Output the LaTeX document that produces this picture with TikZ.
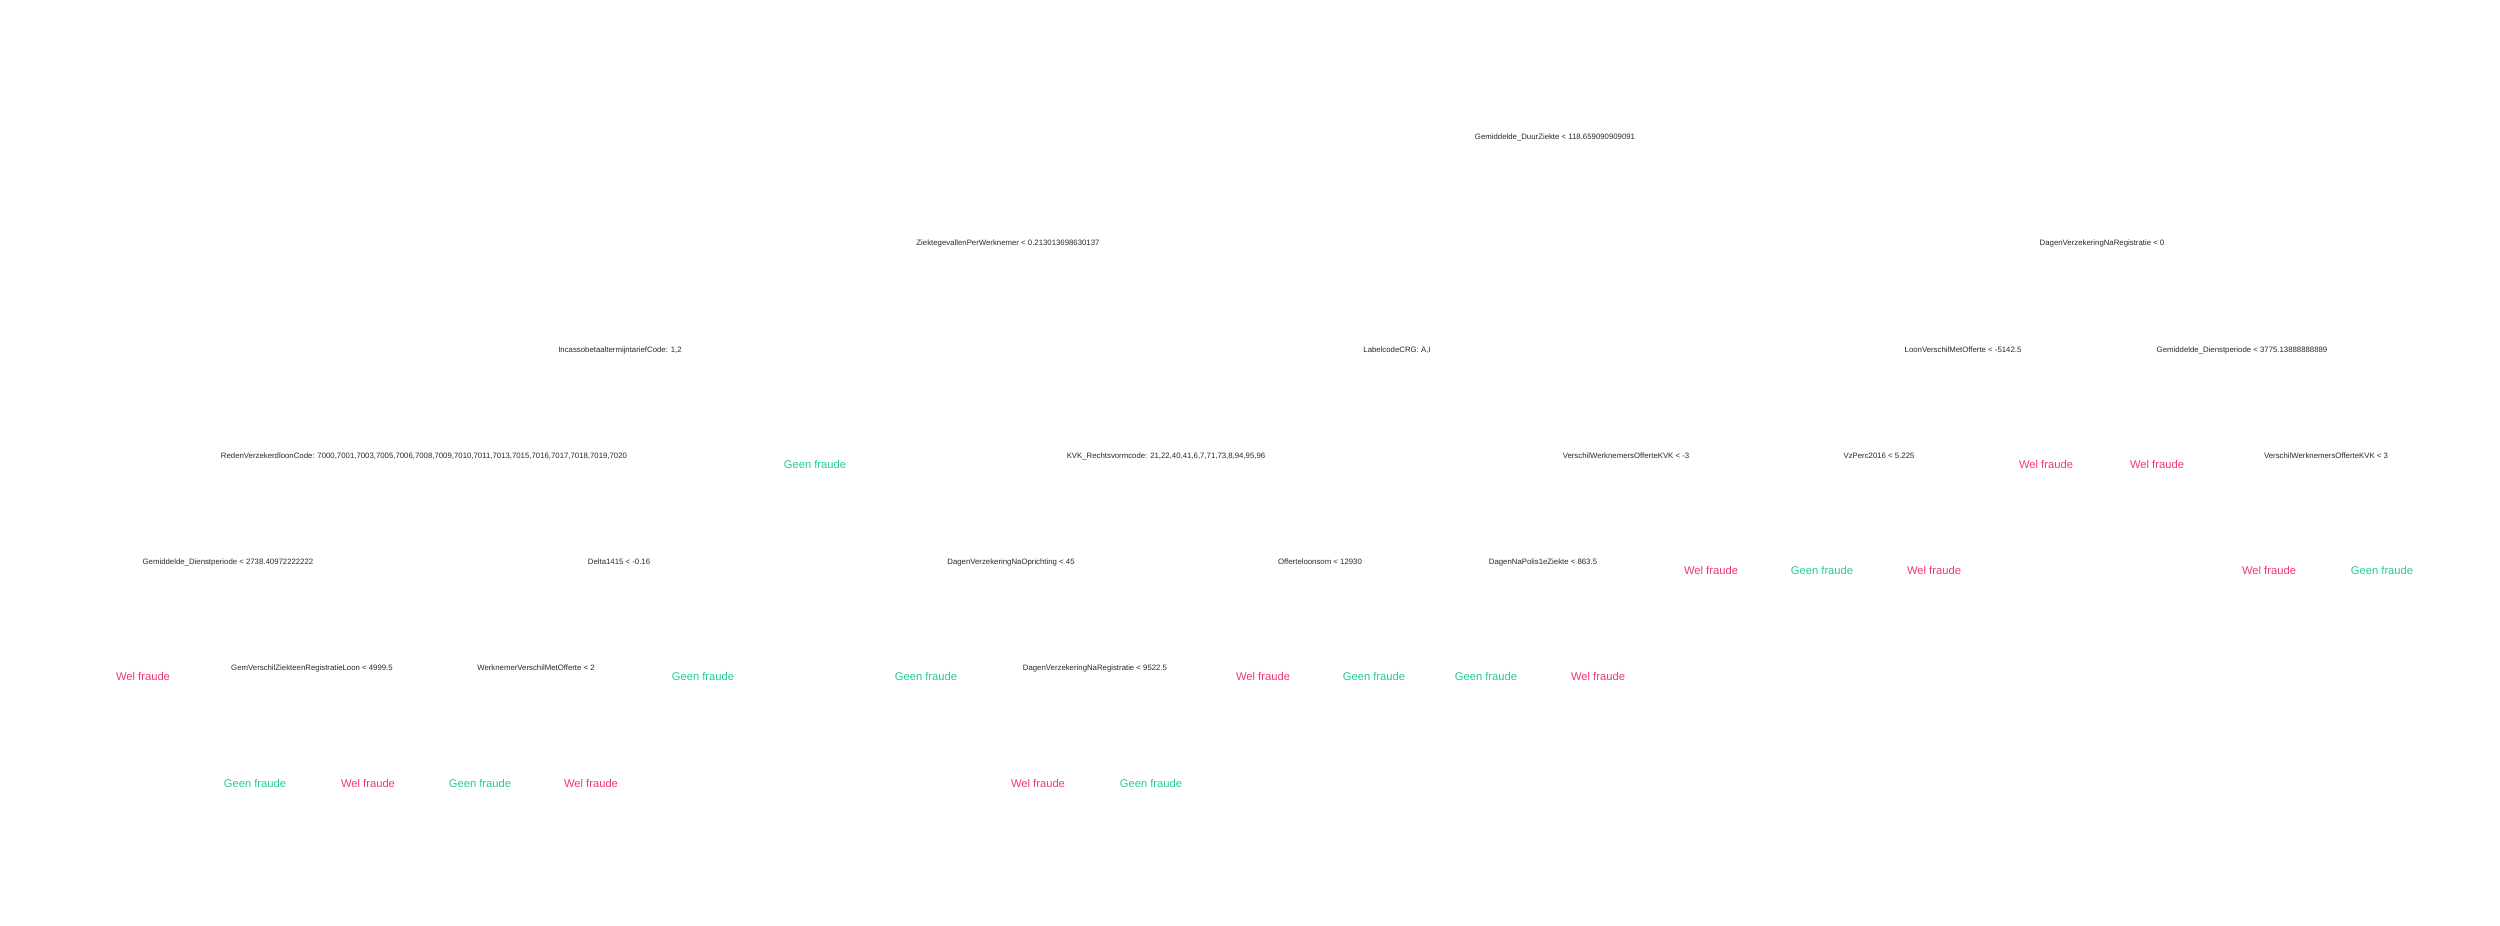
\documentclass[tikz,border=0pt]{standalone}
\usepackage{fontspec}
\setmainfont{Liberation Sans}
\definecolor{welc}{RGB}{240,56,107}
\definecolor{geenc}{RGB}{30,208,138}
\definecolor{splitc}{RGB}{40,40,40}
\begin{document}
\begin{tikzpicture}[x=1pt,y=-1pt,
  split/.style={inner sep=0pt,text=splitc,font=\fontsize{7.8}{9}\selectfont},
  wel/.style={inner sep=0pt,text=welc,font=\fontsize{11.2}{13}\selectfont},
  geen/.style={inner sep=0pt,text=geenc,font=\fontsize{11.2}{13}\selectfont}]
\useasboundingbox (0,0) rectangle (2500,926);
% level 1
\node[split] (r) at (1555,137) {Gemiddelde\_DuurZiekte < 118.659090909091};
% level 2
\node[split] (a) at (1008,243) {ZiektegevallenPerWerknemer < 0.213013698630137};
\node[split] (b) at (2102,243) {DagenVerzekeringNaRegistratie < 0};
% level 3
\node[split] (aa) at (620,350) {IncassobetaaltermijntariefCode: 1,2};
\node[split] (ab) at (1397,350) {LabelcodeCRG: A,I};
\node[split] (ba) at (1963,350) {LoonVerschilMetOfferte < -5142.5};
\node[split] (bb) at (2242,350) {Gemiddelde\_Dienstperiode < 3775.13888888889};
% level 4
\node[split] (aaa) at (424,456) {RedenVerzekerdloonCode: 7000,7001,7003,7005,7006,7008,7009,7010,7011,7013,7015,7016,7017,7018,7019,7020};
\node[geen] (aab) at (815,464) {Geen fraude};
\node[split] (aba) at (1166,456) {KVK\_Rechtsvormcode: 21,22,40,41,6,7,71,73,8,94,95,96};
\node[split] (abb) at (1626,456) {VerschilWerknemersOfferteKVK < -3};
\node[split] (baa) at (1879,456) {VzPerc2016 < 5.225};
\node[wel] (bab) at (2046,464) {Wel fraude};
\node[wel] (bba) at (2157,464) {Wel fraude};
\node[split] (bbb) at (2326,456) {VerschilWerknemersOfferteKVK < 3};
% level 5
\node[split] (aaaa) at (228,562) {Gemiddelde\_Dienstperiode < 2738.40972222222};
\node[split] (aaab) at (619,562) {Delta1415 < -0.16};
\node[split] (abaa) at (1011,562) {DagenVerzekeringNaOprichting < 45};
\node[split] (abab) at (1320,562) {Offerteloonsom < 12930};
\node[split] (abba) at (1543,562) {DagenNaPolis1eZiekte < 863.5};
\node[wel] (abbb) at (1711,570) {Wel fraude};
\node[geen] (baaa) at (1822,570) {Geen fraude};
\node[wel] (baab) at (1934,570) {Wel fraude};
\node[wel] (bbba) at (2269,570) {Wel fraude};
\node[geen] (bbbb) at (2382,570) {Geen fraude};
% level 6
\node[wel] (aaaaa) at (143,676) {Wel fraude};
\node[split] (aaaab) at (312,668) {GemVerschilZiekteenRegistratieLoon < 4999.5};
\node[split] (aaaba) at (536,668) {WerknemerVerschilMetOfferte < 2};
\node[geen] (aaabb) at (703,676) {Geen fraude};
\node[geen] (abaaa) at (926,676) {Geen fraude};
\node[split] (abaab) at (1095,668) {DagenVerzekeringNaRegistratie < 9522.5};
\node[wel] (ababa) at (1263,676) {Wel fraude};
\node[geen] (ababb) at (1374,676) {Geen fraude};
\node[geen] (abbaa) at (1486,676) {Geen fraude};
\node[wel] (abbab) at (1598,676) {Wel fraude};
% level 7
\node[geen] (aaaaba) at (255,783) {Geen fraude};
\node[wel] (aaaabb) at (368,783) {Wel fraude};
\node[geen] (aaabaa) at (480,783) {Geen fraude};
\node[wel] (aaabab) at (591,783) {Wel fraude};
\node[wel] (abaaba) at (1038,783) {Wel fraude};
\node[geen] (abaabb) at (1151,783) {Geen fraude};
\end{tikzpicture}
\end{document}
